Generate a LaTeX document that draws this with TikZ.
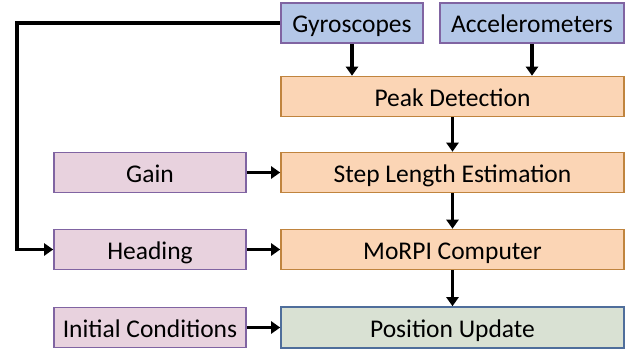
\documentclass[tikz,border=0pt]{standalone}
\usepackage{fontspec}
\setmainfont{Carlito}
\usetikzlibrary{arrows.meta}
\definecolor{bluefill}{HTML}{B4C7E7}
\definecolor{purpleline}{HTML}{8064A2}
\definecolor{orangefill}{HTML}{FBD5B5}
\definecolor{orangeline}{HTML}{C0843E}
\definecolor{pinkfill}{HTML}{E8D2DE}
\definecolor{greenfill}{HTML}{D9E1D3}
\definecolor{greenline}{HTML}{4F6E9B}
\begin{document}
\begin{tikzpicture}[x=1pt,y=-1pt,
  box/.style={draw,line width=1.6pt,inner sep=0pt,text height=19.4pt,text depth=0pt,font=\fontsize{25.5}{28}\selectfont},
  sensor/.style={box,fill=bluefill,draw=purpleline,minimum height=40pt},
  proc/.style={box,fill=orangefill,draw=orangeline,minimum width=343pt,minimum height=40pt},
  param/.style={box,fill=pinkfill,draw=purpleline,minimum width=192pt,minimum height=40pt},
  outbox/.style={box,fill=greenfill,draw=greenline,minimum width=343pt,minimum height=41pt},
  conn/.style={line width=3.2pt,-{Triangle[width=12pt,length=9pt]}}]
\useasboundingbox (0,0) rectangle (642,354);
\node[sensor,minimum width=142pt] (gyro) at (352,23) {Gyroscopes};
\node[sensor,minimum width=184pt] (acc) at (532,23) {Accelerometers};
\node[proc] (peak) at (452.5,96.5) {Peak Detection};
\node[proc] (step) at (452.5,172.5) {Step Length Estimation};
\node[param] (gain) at (150,172.5) {Gain};
\node[param] (head) at (150,249.5) {Heading};
\node[proc] (morpi) at (452.5,249.5) {MoRPI Computer};
\node[param] (init) at (150,327.5) {Initial Conditions};
\node[outbox] (pos) at (452.5,327.5) {Position Update};
\coordinate (c1) at (17,23);
\coordinate (c2) at (17,249.5);
\draw[conn] (gyro.south) -- (gyro.south |- peak.north);
\draw[conn] (acc.south) -- (acc.south |- peak.north);
\draw[conn] (peak.south) -- (step.north);
\draw[conn] (step.south) -- (morpi.north);
\draw[conn] (morpi.south) -- (pos.north);
\draw[conn] (gain.east) -- (step.west);
\draw[conn] (head.east) -- (morpi.west);
\draw[conn] (init.east) -- (pos.west);
\draw[conn] (gyro.west) -- (c1) -- (c2) -- (head.west);
\end{tikzpicture}
\end{document}
